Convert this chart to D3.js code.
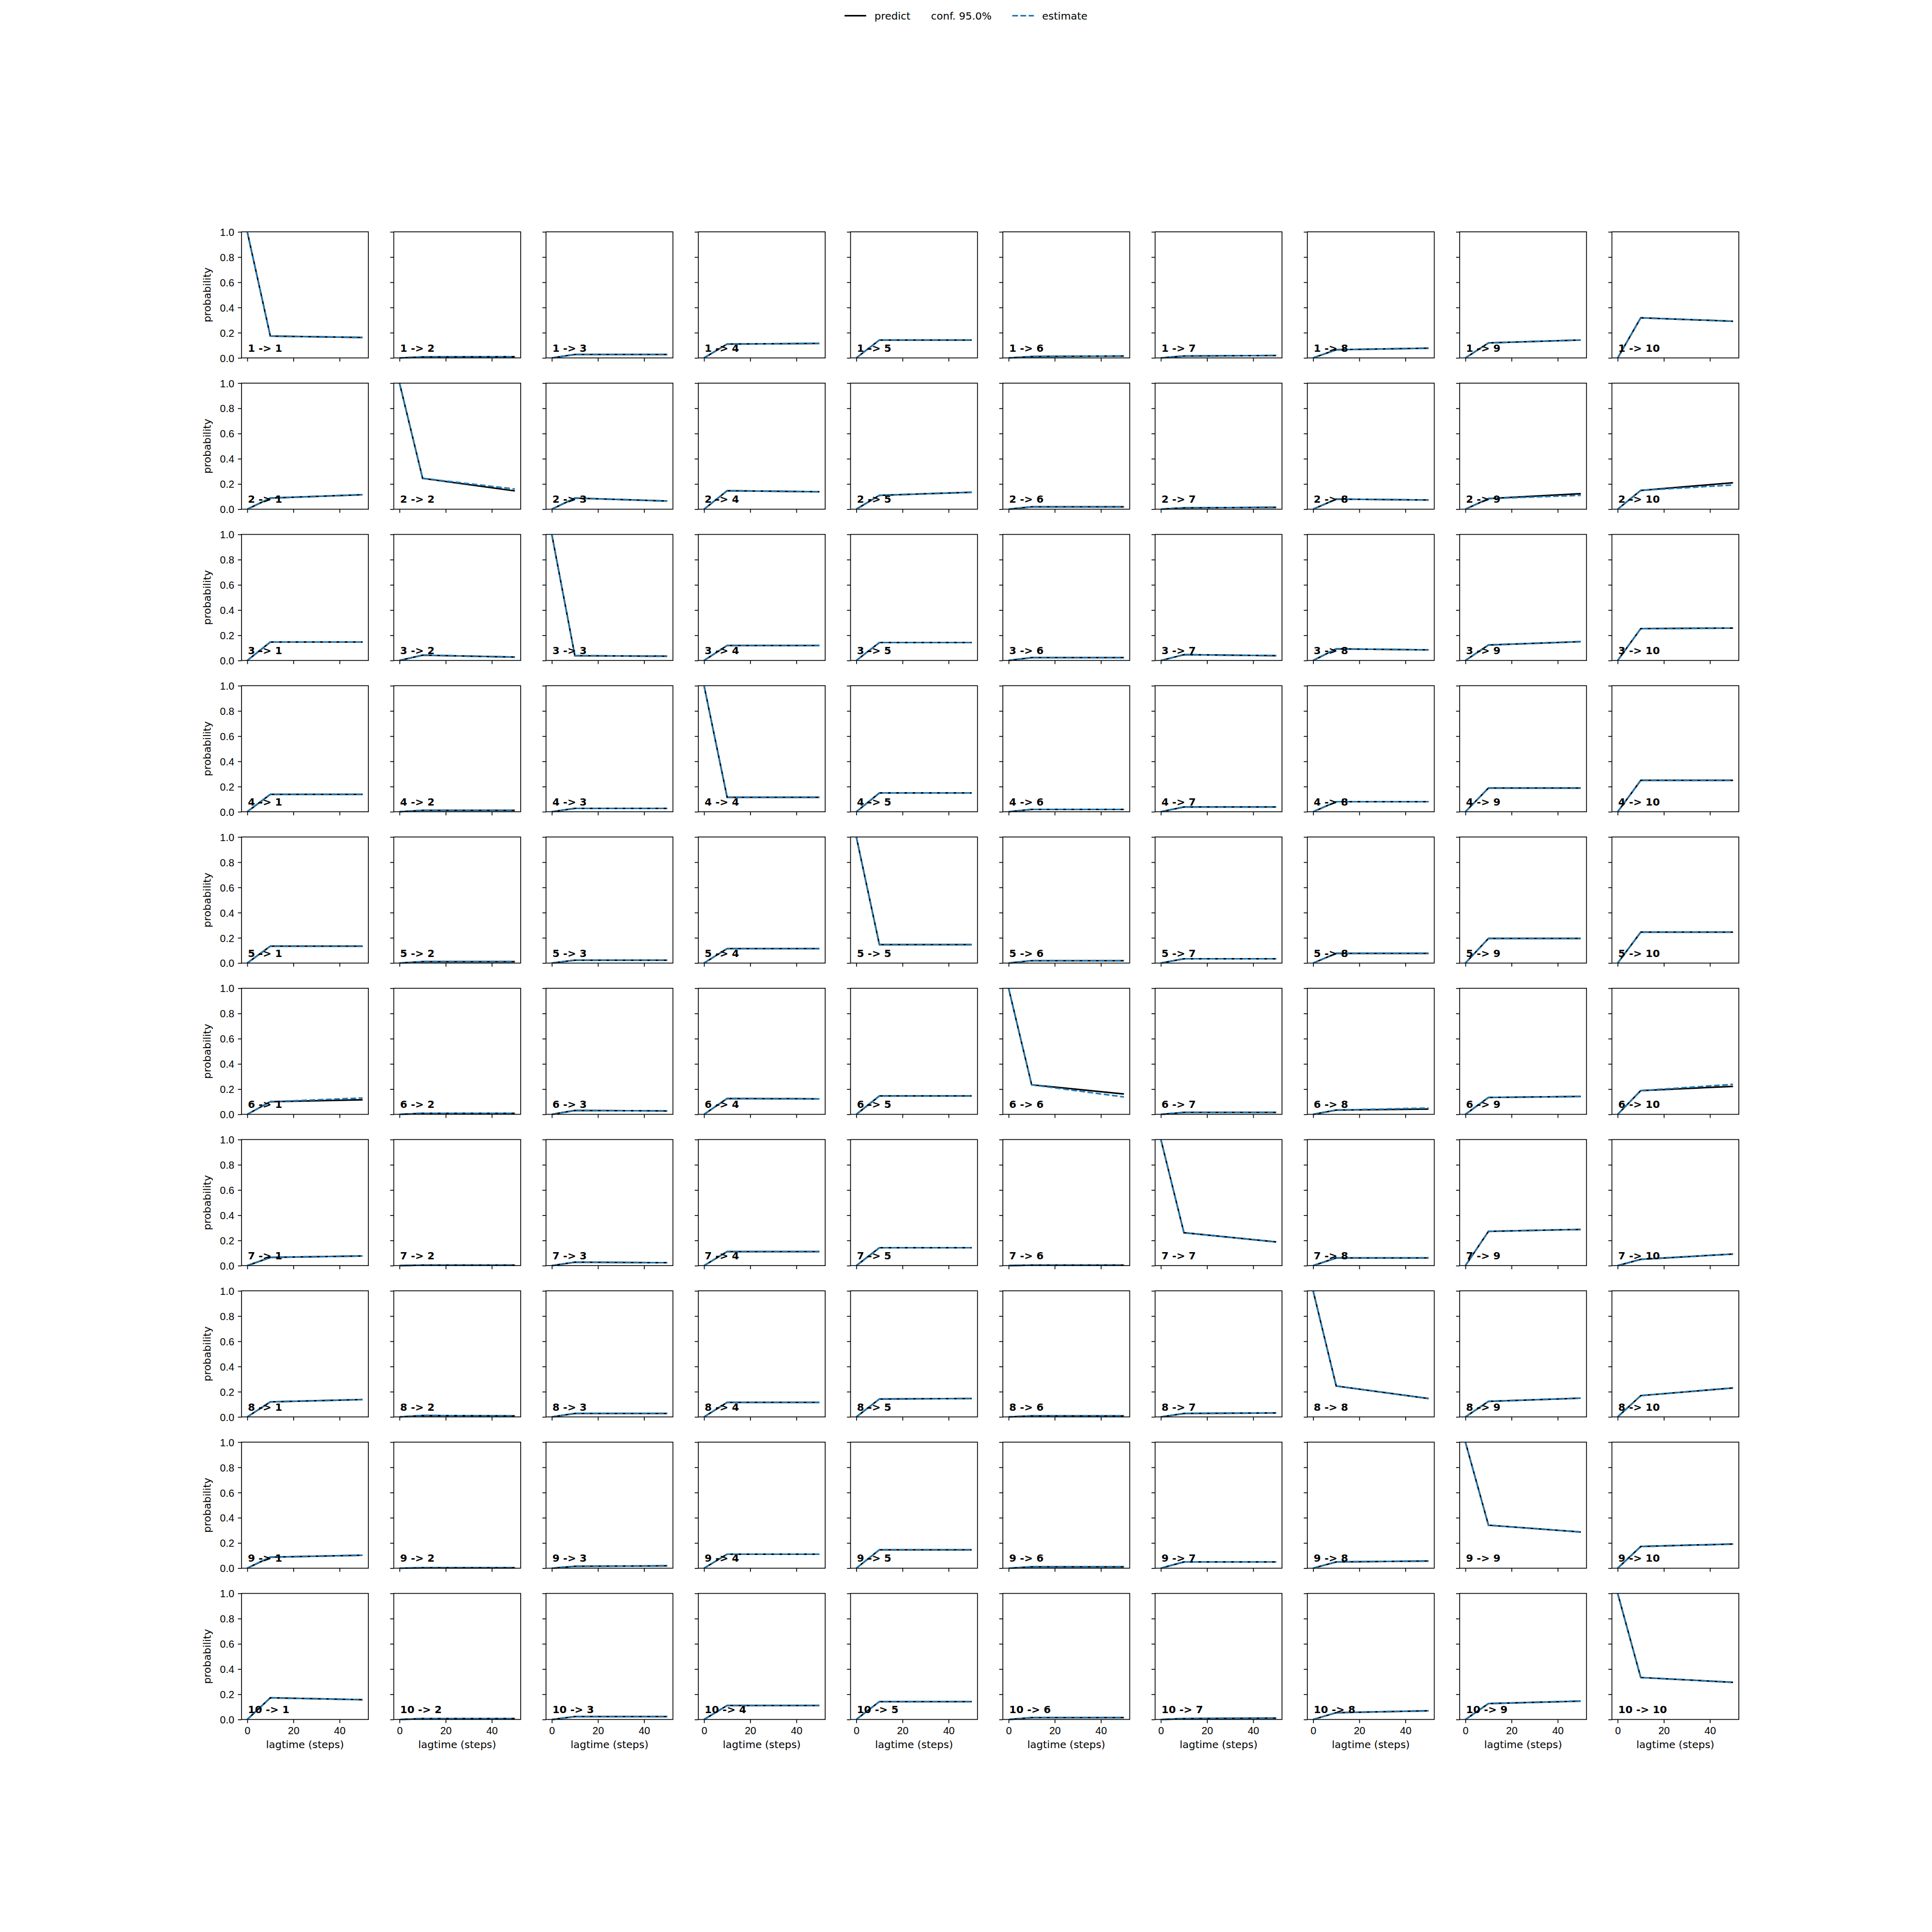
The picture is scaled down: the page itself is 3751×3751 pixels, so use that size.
<!DOCTYPE html>
<html>
<head>
<meta charset="UTF-8">
<title>CK test</title>
<script src="https://cdnjs.cloudflare.com/ajax/libs/d3/7.8.5/d3.min.js"></script>
<style>
    body { margin: 0; background: #fff; }
    svg { display: block; font-family: "DejaVu Sans", sans-serif; }
    .tick text { font-size: 20px; fill: #000; }
    .tick line { stroke: #000; stroke-width: 1.6px; }
    .label { font-size: 20px; fill: #000; }
    .note { font-size: 20px; font-weight: bold; fill: #000; }
</style>
</head>
<body>
<div id="chart"></div>
<script>
    const states = ["1", "2", "3", "4", "5", "6", "7", "8", "9", "10"];
    const lagtimes = [0, 10, 50];
    const xTicks = [0, 20, 40];
    const yTicks = [0, 0.2, 0.4, 0.6, 0.8, 1.0];

    // predict[i][j] = probability i -> j at each lagtime
    const predict = [
        [[1,.173,.162],[0,.008,.010],[0,.027,.027],[0,.110,.115],[0,.142,.142],[0,.011,.015],[0,.015,.019],[0,.065,.077],[0,.119,.142],[0,.318,.291]],
        [[0,.088,.115],[1,.245,.145],[0,.088,.065],[0,.146,.138],[0,.110,.134],[0,.019,.019],[0,.011,.015],[0,.080,.073],[0,.084,.123],[0,.149,.210]],
        [[0,.146,.146],[0,.042,.027],[1,.038,.034],[0,.119,.119],[0,.142,.142],[0,.023,.023],[0,.046,.038],[0,.092,.084],[0,.123,.149],[0,.253,.257]],
        [[0,.138,.138],[0,.011,.011],[0,.027,.027],[1,.115,.115],[0,.149,.149],[0,.019,.019],[0,.038,.038],[0,.080,.080],[0,.188,.188],[0,.249,.249]],
        [[0,.134,.134],[0,.011,.011],[0,.023,.023],[0,.115,.115],[1,.146,.146],[0,.019,.019],[0,.034,.034],[0,.077,.077],[0,.195,.195],[0,.245,.245]],
        [[0,.100,.115],[0,.008,.008],[0,.031,.027],[0,.126,.123],[0,.146,.146],[1,.234,.161],[0,.015,.015],[0,.034,.042],[0,.134,.142],[0,.188,.222]],
        [[0,.065,.077],[0,.004,.004],[0,.027,.023],[0,.111,.111],[0,.142,.142],[0,.004,.004],[1,.261,.188],[0,.061,.061],[0,.272,.287],[0,.050,.092]],
        [[0,.119,.138],[0,.011,.008],[0,.027,.027],[0,.115,.115],[0,.142,.146],[0,.008,.008],[0,.027,.031],[1,.245,.146],[0,.123,.149],[0,.169,.230]],
        [[0,.088,.103],[0,.004,.004],[0,.015,.019],[0,.111,.111],[0,.146,.146],[0,.011,.011],[0,.050,.050],[0,.050,.057],[1,.341,.287],[0,.172,.192]],
        [[0,.172,.157],[0,.008,.008],[0,.023,.023],[0,.111,.111],[0,.142,.142],[0,.015,.015],[0,.008,.011],[0,.054,.069],[0,.126,.146],[1,.333,.295]]
    ];

    const estimate = [
        [[1,.173,.162],[0,.008,.010],[0,.027,.027],[0,.110,.115],[0,.142,.142],[0,.011,.015],[0,.015,.019],[0,.065,.077],[0,.119,.142],[0,.318,.291]],
        [[0,.088,.115],[1,.245,.160],[0,.088,.065],[0,.146,.138],[0,.110,.134],[0,.019,.019],[0,.011,.015],[0,.080,.073],[0,.084,.110],[0,.149,.192]],
        [[0,.146,.146],[0,.042,.027],[1,.038,.034],[0,.119,.119],[0,.142,.142],[0,.023,.023],[0,.046,.038],[0,.092,.084],[0,.123,.149],[0,.253,.257]],
        [[0,.138,.138],[0,.011,.011],[0,.027,.027],[1,.115,.115],[0,.149,.149],[0,.019,.019],[0,.038,.038],[0,.080,.080],[0,.188,.188],[0,.249,.249]],
        [[0,.134,.134],[0,.011,.011],[0,.023,.023],[0,.115,.115],[1,.146,.146],[0,.019,.019],[0,.034,.034],[0,.077,.077],[0,.195,.195],[0,.245,.245]],
        [[0,.100,.130],[0,.008,.008],[0,.031,.027],[0,.126,.123],[0,.146,.146],[1,.234,.138],[0,.015,.015],[0,.034,.050],[0,.134,.142],[0,.188,.238]],
        [[0,.065,.077],[0,.004,.004],[0,.027,.023],[0,.111,.111],[0,.142,.142],[0,.004,.004],[1,.261,.188],[0,.061,.061],[0,.272,.287],[0,.050,.092]],
        [[0,.119,.138],[0,.011,.008],[0,.027,.027],[0,.115,.115],[0,.142,.146],[0,.008,.008],[0,.027,.031],[1,.245,.146],[0,.123,.149],[0,.169,.230]],
        [[0,.088,.103],[0,.004,.004],[0,.015,.019],[0,.111,.111],[0,.146,.146],[0,.011,.011],[0,.050,.050],[0,.050,.057],[1,.341,.287],[0,.172,.192]],
        [[0,.172,.157],[0,.008,.008],[0,.023,.023],[0,.111,.111],[0,.142,.142],[0,.015,.015],[0,.008,.011],[0,.054,.069],[0,.126,.146],[1,.333,.295]]
    ];

    const legendItems = [
        { label: "predict", kind: "predict" },
        { label: "conf. 95.0%", kind: "none" },
        { label: "estimate", kind: "estimate" }
    ];

    const W = 3751, H = 3751;
    const blue = "#1f77b4";
    const dash = "11.1,4.8";

    // matplotlib default subplot params
    const gridL = 0.125 * W, gridR = 0.9 * W;
    const gridT = 0.12 * H, gridB = 0.89 * H;
    const n = states.length;
    const cellW = (gridR - gridL) / (n + (n - 1) * 0.2);
    const cellH = (gridB - gridT) / (n + (n - 1) * 0.2);

    const svg = d3.select("#chart")
        .append("svg")
        .attr("width", W)
        .attr("height", H);

    const x = d3.scaleLinear().domain([-2.5, 52.5]).range([0, cellW]);
    const y = d3.scaleLinear().domain([0, 1]).range([cellH, 0]);

    const line = d3.line()
        .x((d, k) => x(lagtimes[k]))
        .y(d => y(d));

    states.forEach((from, i) => {
        states.forEach((to, j) => {
            const g = svg.append("g")
                .attr("transform", `translate(${gridL + j * cellW * 1.2},${gridT + i * cellH * 1.2})`);

            // y axis
            const ya = g.append("g")
                .call(d3.axisLeft(y).tickValues(yTicks).tickSize(7).tickPadding(7)
                    .tickFormat(j === 0 ? d3.format(".1f") : ""));
            ya.select(".domain").remove();
            ya.selectAll("text").attr("dy", "0.36em");

            // x axis
            const xa = g.append("g")
                .attr("transform", `translate(0,${cellH})`)
                .call(d3.axisBottom(x).tickValues(xTicks).tickSize(7).tickPadding(7)
                    .tickFormat(i === n - 1 ? d3.format("d") : ""));
            xa.select(".domain").remove();

            g.append("path")
                .attr("d", line(predict[i][j]))
                .attr("fill", "none")
                .attr("stroke", "#000")
                .attr("stroke-width", 3);

            g.append("path")
                .attr("d", line(estimate[i][j]))
                .attr("fill", "none")
                .attr("stroke", blue)
                .attr("stroke-width", 3)
                .attr("stroke-dasharray", dash);

            g.append("rect")
                .attr("width", cellW)
                .attr("height", cellH)
                .attr("fill", "none")
                .attr("stroke", "#000")
                .attr("stroke-width", 1.6);

            g.append("text")
                .attr("class", "note")
                .attr("x", 0.05 * cellW)
                .attr("y", cellH - 0.05 * cellH)
                .text(`${from} -> ${to}`);

            if (j === 0) {
                g.append("text")
                    .attr("class", "label")
                    .attr("transform", `translate(${-65.5},${cellH / 2}) rotate(-90)`)
                    .attr("text-anchor", "middle")
                    .attr("dy", "0.26em")
                    .text("probability");
            }
            if (i === n - 1) {
                g.append("text")
                    .attr("class", "label")
                    .attr("x", cellW / 2)
                    .attr("y", cellH + 56)
                    .attr("text-anchor", "middle")
                    .text("lagtime (steps)");
            }
        });
    });

    // legend, centred at the top
    const legend = svg.append("g");
    let cursor = 0;
    legendItems.forEach((item, k) => {
        if (k > 0) cursor += 40;
        if (item.kind !== "none") {
            legend.append("line")
                .attr("x1", cursor).attr("x2", cursor + 42)
                .attr("y1", 0).attr("y2", 0)
                .attr("stroke", item.kind === "predict" ? "#000" : blue)
                .attr("stroke-width", 3)
                .attr("stroke-dasharray", item.kind === "estimate" ? dash : null);
            cursor += 42 + 16;
        }
        const t = legend.append("text")
            .attr("class", "label")
            .attr("x", cursor)
            .attr("dy", "0.36em")
            .text(item.label);
        cursor += t.node().getComputedTextLength();
    });
    legend.attr("transform", `translate(${W / 2 - cursor / 2},30.6)`);
</script>
</body>
</html>
